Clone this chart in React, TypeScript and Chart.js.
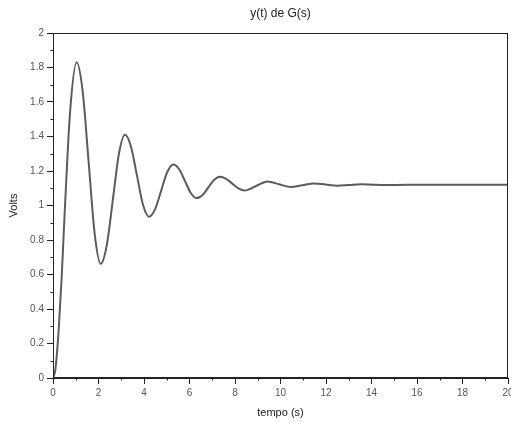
import React, { useEffect, useRef } from "react";
import { Chart, registerables } from "chart.js";

Chart.register(...registerables);

const titleText = "y(t) de G(s)";
const xTitle = "tempo (s)";
const yTitle = "Volts";

const time = [
  0, 0.1, 0.25, 0.38, 0.5, 0.75, 1.04,
  1.305, 1.57, 1.835, 2.1,
  2.366, 2.633, 2.899, 3.165,
  3.429, 3.693, 3.956, 4.22,
  4.488, 4.755, 5.023, 5.29,
  5.548, 5.805, 6.063, 6.32,
  6.575, 6.83, 7.085, 7.34,
  7.61, 7.88, 8.15, 8.42,
  8.925, 9.43, 9.94, 10.45, 10.96, 11.47, 11.985, 12.5, 13.025, 13.55, 14.075, 14.6,
  15.6, 17, 18.5, 20,
];

const volts = [
  0, 0.045, 0.28, 0.58, 0.92, 1.54, 1.83,
  1.66, 1.246, 0.833, 0.662,
  0.771, 1.036, 1.301, 1.41,
  1.341, 1.1725, 1.004, 0.935,
  0.979, 1.0865, 1.194, 1.238,
  1.21, 1.1405, 1.071, 1.043,
  1.061, 1.105, 1.149, 1.167,
  1.155, 1.127, 1.099, 1.087,
  1.113, 1.139, 1.123, 1.107, 1.1175, 1.128, 1.1215, 1.115, 1.119, 1.1225, 1.12, 1.1185,
  1.1205, 1.12, 1.12, 1.12,
];

const xMinorTicks = [1, 3, 5, 7, 9, 11, 13, 15, 17, 19];
const yMinorTicks = [0.1, 0.3, 0.5, 0.7, 0.9, 1.1, 1.3, 1.5, 1.7, 1.9];

const FONT = "'Liberation Sans', Arial, sans-serif";

const fmt = (v: any) => String(Math.round(Number(v) * 10) / 10);

const framePlugin = {
  id: "frame",
  afterDraw(chart: any) {
    const { ctx, chartArea } = chart;
    const xs = chart.scales.x;
    const ys = chart.scales.y;
    ctx.save();
    ctx.strokeStyle = "#222";
    ctx.lineWidth = 1;
    const l = Math.round(chartArea.left) + 0.5;
    const r = Math.round(chartArea.right) - 0.5;
    const t = Math.round(chartArea.top) + 0.5;
    const b = Math.round(chartArea.bottom) - 0.5;
    ctx.strokeRect(l, t, r - l, b - t);
    ctx.beginPath();
    for (const v of xMinorTicks) {
      const px = Math.round(xs.getPixelForValue(v)) + 0.5;
      ctx.moveTo(px, b);
      ctx.lineTo(px, b + 3);
    }
    for (const v of yMinorTicks) {
      const py = Math.round(ys.getPixelForValue(v)) + 0.5;
      ctx.moveTo(l, py);
      ctx.lineTo(l - 3, py);
    }
    ctx.stroke();
    ctx.fillStyle = "#222";
    ctx.font = `12px ${FONT}`;
    ctx.textAlign = "center";
    ctx.textBaseline = "middle";
    ctx.fillText(titleText, (chartArea.left + chartArea.right) / 2, 14);
    ctx.restore();
  },
};

export default function App() {
  const ref = useRef<HTMLCanvasElement>(null);
  useEffect(() => {
    const points = time.map((t, i) => ({ x: t, y: volts[i] }));
    const chart = new Chart(ref.current as HTMLCanvasElement, {
      type: "line",
      data: {
        datasets: [
          {
            data: points,
            borderColor: "#5c5c5c",
            borderWidth: 2,
            pointRadius: 0,
            cubicInterpolationMode: "monotone",
            fill: false,
          },
        ],
      },
      options: {
        responsive: false,
        animation: false,
        layout: { padding: { top: 33, right: 22, left: 0, bottom: 0 } },
        plugins: { legend: { display: false }, tooltip: { enabled: false }, title: { display: false } },
        scales: {
          x: {
            type: "linear",
            min: 0,
            max: 20,
            afterFit: (s: any) => {
              s.height = 45;
            },
            ticks: { stepSize: 2, color: "#555", font: { family: FONT, size: 10 }, padding: 3, maxRotation: 0, callback: fmt },
            grid: { display: true, drawOnChartArea: false, tickLength: 6, color: "#222" },
            border: { display: true, color: "#222" },
            title: { display: true, text: xTitle, color: "#222", font: { family: FONT, size: 11 }, padding: { top: 0, bottom: 3 } },
          },
          y: {
            min: 0,
            max: 2,
            afterFit: (s: any) => {
              s.width = 53;
            },
            ticks: { stepSize: 0.2, color: "#555", font: { family: FONT, size: 10 }, padding: 3, callback: fmt },
            grid: { display: true, drawOnChartArea: false, tickLength: 6, color: "#222" },
            border: { display: true, color: "#222" },
            title: { display: true, text: yTitle, color: "#222", font: { family: FONT, size: 11 }, padding: { top: 7, bottom: 0 } },
          },
        },
      },
      plugins: [framePlugin],
    });
    return () => chart.destroy();
  }, []);
  return (
    <div style={{ position: "absolute", left: 0, top: 0, width: 511, height: 423, overflow: "hidden", background: "#fff" }}>
      <canvas ref={ref} width={530} height={423} />
    </div>
  );
}
